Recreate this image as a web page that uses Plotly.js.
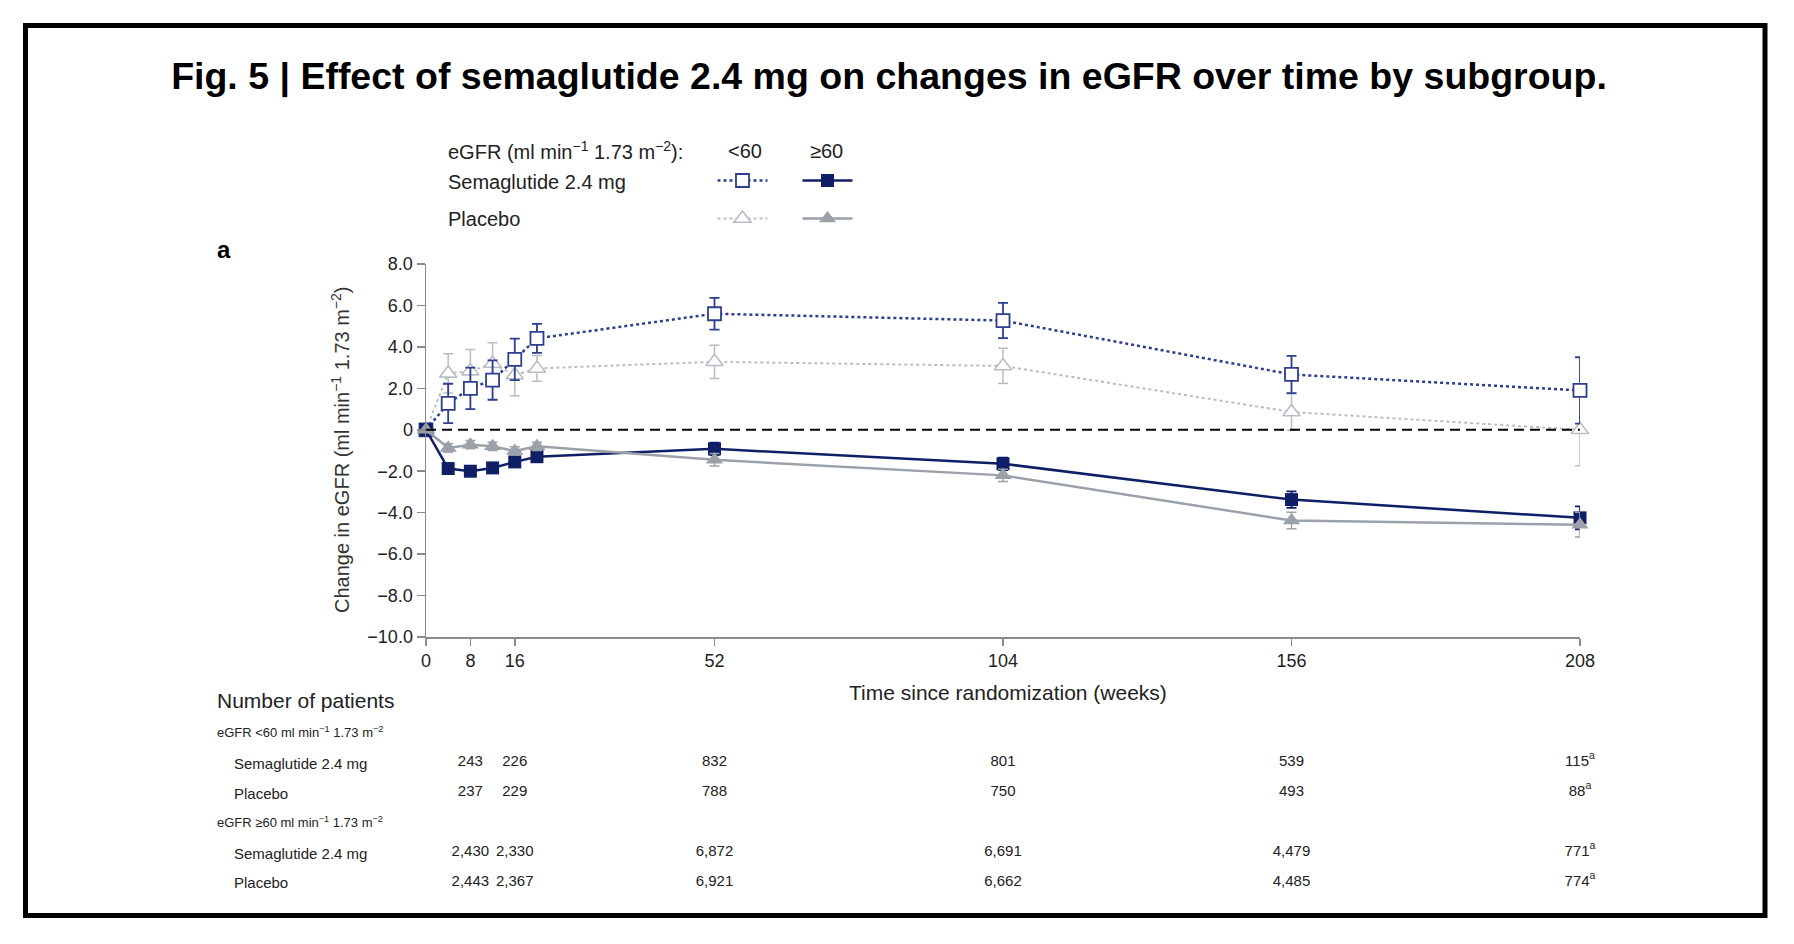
<!DOCTYPE html>
<html>
<head>
<meta charset="utf-8">
<script src="https://cdn.plot.ly/plotly-3.0.1.min.js"></script>
<style>html,body{margin:0;padding:0;background:#fff;}#chart{width:1794px;height:944px;}</style>
</head>
<body>
<div id="chart"></div>
<script>
// ---- Data ----
const weeks = [0, 4, 8, 12, 16, 20, 52, 104, 156, 208];

const semaLow      = [0, 1.27, 2.0, 2.4, 3.4, 4.41, 5.6, 5.27, 2.67, 1.9];
const semaLowErr   = [0, 0.95, 1.0, 0.95, 1.0, 0.7, 0.77, 0.85, 0.9, 1.6];
const placLow      = [0, 2.72, 2.83, 3.2, 2.64, 2.96, 3.28, 3.08, 0.86, 0.0];
const placLowErr   = [0, 0.95, 1.05, 1.0, 1.0, 0.62, 0.8, 0.85, 0.88, 1.74];
const semaHigh     = [0, -1.87, -2.0, -1.84, -1.55, -1.3, -0.92, -1.64, -3.37, -4.25];
const semaHighErr  = [0, 0.2, 0.2, 0.2, 0.2, 0.2, 0.3, 0.3, 0.4, 0.55];
const placHigh     = [0, -0.88, -0.72, -0.8, -1.02, -0.8, -1.45, -2.2, -4.38, -4.58];
const placHighErr  = [0, 0.2, 0.2, 0.2, 0.2, 0.2, 0.3, 0.3, 0.4, 0.6];

const xTickVals = [0, 8, 16, 52, 104, 156, 208];
const yTickVals = [8, 6, 4, 2, 0, -2, -4, -6, -8, -10];
const yTickText = ["8.0", "6.0", "4.0", "2.0", "0", "\u22122.0", "\u22124.0", "\u22126.0", "\u22128.0", "\u221210.0"];

const tableWeeks = [8, 16, 52, 104, 156, 208];
const tableRows  = ["hdrLow", "semaLow", "placLow", "hdrHigh", "semaHigh", "placHigh"];
const nSemaLow  = ["243", "226", "832", "801", "539", "115<sup>a</sup>"];
const nPlacLow  = ["237", "229", "788", "750", "493", "88<sup>a</sup>"];
const nSemaHigh = ["2,430", "2,330", "6,872", "6,691", "4,479", "771<sup>a</sup>"];
const nPlacHigh = ["2,443", "2,367", "6,921", "6,662", "4,485", "774<sup>a</sup>"];

const titleText = "Fig. 5 | Effect of semaglutide 2.4 mg on changes in eGFR over time by subgroup.";
const yTitleText = "Change in eGFR (ml min<sup>\u22121</sup> 1.73 m<sup>\u22122</sup>)";
const xTitleText = "Time since randomization (weeks)";
const legendHeader = "eGFR (ml min<sup>\u22121</sup> 1.73 m<sup>\u22122</sup>):";
const groupLabels = ["<60", "\u226560"];
const armLabels = ["Semaglutide 2.4 mg", "Placebo"];
const tableTitle = "Number of patients";
const tableGroups = ["eGFR <60 ml min<sup>\u22121</sup> 1.73 m<sup>\u22122</sup>", "eGFR \u226560 ml min<sup>\u22121</sup> 1.73 m<sup>\u22122</sup>"];

// ---- Styles ----
const W = 1794, H = 944;
const px = v => v / W;
const py = v => 1 - v / H;
const NAVY = "#0e1f66";
const NAVY_DOT = "#2d3e8e";
const GREY = "#9ba1a9";
const GREY_LIGHT = "#b9bdc3";
const FONT = "Liberation Sans, Arial, sans-serif";

const traces = [
  {
    x: weeks, y: placLow, type: "scatter", mode: "lines+markers", name: "",
    legend: "legend", legendgroup: "b", cliponaxis: false, hoverinfo: "skip",
    line: {color: GREY_LIGHT, width: 2, dash: "dot"},
    marker: {symbol: "triangle-up", size: 15, color: "white", line: {color: GREY_LIGHT, width: 1.6}},
    error_y: {type: "data", array: placLowErr, visible: true, color: GREY_LIGHT, thickness: 1.5, width: 5}
  },
  {
    x: weeks, y: semaLow, type: "scatter", mode: "lines+markers", name: "",
    legend: "legend", legendgroup: "a", cliponaxis: false, hoverinfo: "skip",
    line: {color: NAVY_DOT, width: 2.5, dash: "dot"},
    marker: {symbol: "square", size: 13, color: "white", line: {color: NAVY_DOT, width: 1.8}},
    error_y: {type: "data", array: semaLowErr, visible: true, color: NAVY_DOT, thickness: 1.8, width: 5}
  },
  {
    x: weeks, y: semaHigh, type: "scatter", mode: "lines+markers", name: "",
    legend: "legend2", legendgroup: "c", cliponaxis: false, hoverinfo: "skip",
    line: {color: NAVY, width: 2.5},
    marker: {symbol: "square", size: 13, color: NAVY},
    error_y: {type: "data", array: semaHighErr, visible: true, color: NAVY, thickness: 1.8, width: 5}
  },
  {
    x: weeks, y: placHigh, type: "scatter", mode: "lines+markers", name: "",
    legend: "legend2", legendgroup: "d", cliponaxis: false, hoverinfo: "skip",
    line: {color: GREY, width: 2.5},
    marker: {symbol: "triangle-up", size: 15, color: GREY},
    error_y: {type: "data", array: placHighErr, visible: true, color: GREY, thickness: 1.5, width: 5}
  }
];
traces[0].legendrank = 2; traces[1].legendrank = 1;
traces[2].legendrank = 1; traces[3].legendrank = 2;

// number-of-patients table drawn as text traces on the shared week axis
[[nSemaLow, "semaLow"], [nPlacLow, "placLow"], [nSemaHigh, "semaHigh"], [nPlacHigh, "placHigh"]].forEach(([vals, row]) => {
  traces.push({
    x: tableWeeks, y: tableWeeks.map(() => row), type: "scatter", mode: "text", text: vals,
    xaxis: "x", yaxis: "y2", showlegend: false, cliponaxis: false, hoverinfo: "skip",
    textposition: "middle center", textfont: {family: FONT, size: 15, color: "#222"}
  });
});

const annotations = [];
function addText(text, x, y, opts) {
  annotations.push(Object.assign({
    text: text, x: x, y: y, xref: "paper", yref: "paper", showarrow: false,
    xanchor: "left", yanchor: "middle", font: {family: FONT, size: 15, color: "#222"}
  }, opts || {}));
}

// axis titles
addText(yTitleText, px(341), py(450), {xanchor: "center", textangle: -90, font: {family: FONT, size: 20, color: "#333"}});
addText(xTitleText, px(1008), py(692), {xanchor: "center", font: {family: FONT, size: 21, color: "#222"}});
// panel label
addText("<b>a</b>", px(215), py(249), {font: {family: FONT, size: 24, color: "#000"}});
// legend header
addText(legendHeader, px(446), py(151), {font: {family: FONT, size: 20, color: "#222"}});
addText(groupLabels[0], px(745), py(151), {xanchor: "center", font: {family: FONT, size: 20, color: "#222"}});
addText(groupLabels[1], px(826), py(151), {xanchor: "center", font: {family: FONT, size: 20, color: "#222"}});
addText(armLabels[0], px(446), py(182), {font: {family: FONT, size: 20, color: "#222"}});
addText(armLabels[1], px(446), py(219), {font: {family: FONT, size: 20, color: "#222"}});

// table labels
addText(tableTitle, px(215), py(700), {font: {family: FONT, size: 21, color: "#222"}});
const rowY = [732, 763, 793, 822, 853, 882];
addText(tableGroups[0], px(215), py(rowY[0]), {font: {family: FONT, size: 13, color: "#222"}});
addText(armLabels[0], px(232), py(rowY[1]), {font: {family: FONT, size: 15, color: "#222"}});
addText(armLabels[1], px(232), py(rowY[2]), {font: {family: FONT, size: 15, color: "#222"}});
addText(tableGroups[1], px(215), py(rowY[3]), {font: {family: FONT, size: 13, color: "#222"}});
addText(armLabels[0], px(232), py(rowY[4]), {font: {family: FONT, size: 15, color: "#222"}});
addText(armLabels[1], px(232), py(rowY[5]), {font: {family: FONT, size: 15, color: "#222"}});

const layout = {
  width: W, height: H,
  margin: {l: 0, r: 0, t: 0, b: 0},
  paper_bgcolor: "#fff", plot_bgcolor: "rgba(0,0,0,0)",
  title: {
    text: "<b>" + titleText + "</b>", font: {family: FONT, size: 37.5, color: "#000"},
    x: px(889), xanchor: "center", y: py(76), yanchor: "middle", xref: "paper", yref: "container"
  },
  xaxis: {
    domain: [px(426), px(1580)], range: [0, 208], showgrid: false, zeroline: false,
    showline: true, linecolor: "#8a8a8a", linewidth: 1.5,
    tickmode: "array", tickvals: xTickVals, ticks: "outside", ticklen: 7, tickcolor: "#8a8a8a", tickwidth: 1.5,
    tickfont: {family: FONT, size: 18, color: "#222"}
  },
  yaxis: {
    domain: [py(637), py(264)], range: [-10, 8], showgrid: false, zeroline: false,
    showline: true, linecolor: "#8a8a8a", linewidth: 1.5,
    tickmode: "array", tickvals: yTickVals, ticktext: yTickText, ticks: "outside", ticklen: 8, tickcolor: "#8a8a8a", tickwidth: 1.5,
    tickfont: {family: FONT, size: 18, color: "#222"}
  },
  yaxis2: {
    domain: [py(897), py(717)], type: "category", categoryorder: "array", categoryarray: tableRows,
    range: [5.5, -0.5], anchor: "x", visible: false, showgrid: false, zeroline: false
  },
  showlegend: true,
  legend: {
    x: px(745), xanchor: "center", y: py(161), yanchor: "top",
    bgcolor: "rgba(0,0,0,0)", font: {family: FONT, size: 20},
    traceorder: "grouped", tracegroupgap: 9, itemwidth: 50
  },
  legend2: {
    x: px(830), xanchor: "center", y: py(161), yanchor: "top",
    bgcolor: "rgba(0,0,0,0)", font: {family: FONT, size: 20},
    traceorder: "grouped", tracegroupgap: 9, itemwidth: 50
  },
  shapes: [
    {type: "line", xref: "x", yref: "y", x0: 0, x1: 208, y0: 0, y1: 0, line: {color: "#000", width: 2, dash: "10px,6px"}},
    {type: "rect", xref: "paper", yref: "paper", x0: px(25.5), x1: px(1765), y0: py(915.5), y1: py(25.5), line: {color: "#000", width: 5}}
  ],
  annotations: annotations
};

Plotly.newPlot("chart", traces, layout, {displayModeBar: false, staticPlot: true});
</script>
</body>
</html>
